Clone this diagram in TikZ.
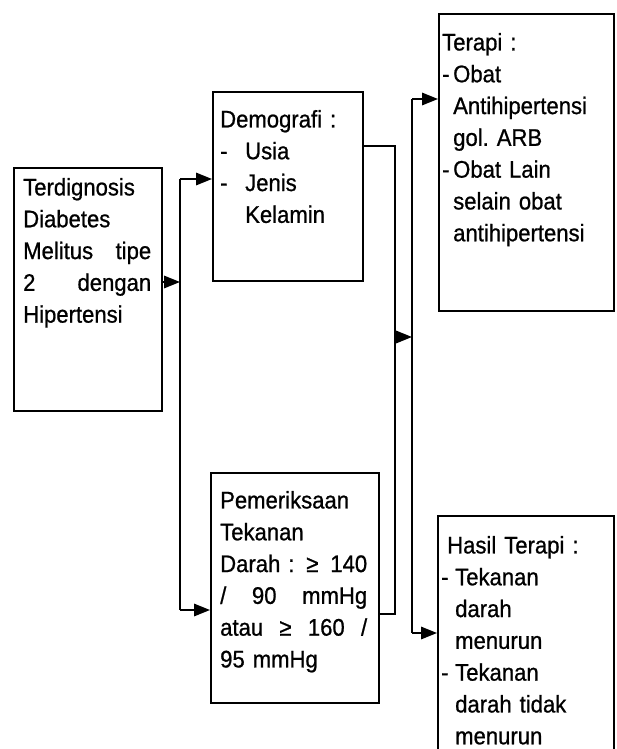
\documentclass[tikz,border=0pt]{standalone}
\usepackage{fontspec}
\setmainfont{Liberation Sans}[FakeStretch=0.92,FakeBold=0.8]
\usetikzlibrary{arrows.meta,calc}
\tikzset{
  box/.style={draw=black, line width=1.8pt, rectangle, inner sep=0pt, anchor=north west},
  txt/.style={inner sep=0pt, anchor=north west, align=left, font=\fontsize{24}{31.8}\selectfont\frenchspacing},
  conn/.style={line width=1.6pt, line join=miter},
  arr/.style={conn, -{Triangle[length=16pt,width=12.5pt]}}
}
\newcommand{\dsh}[1]{\makebox[#1][l]{-}}
\begin{document}
\begin{tikzpicture}[x=1pt,y=-1pt]
\clip (0,0) rectangle (616,749);
\useasboundingbox (0,0) rectangle (616,749);
% boxes
\node[box, minimum width=148pt, minimum height=243pt] (diag) at (13,167) {};
\node[box, minimum width=150pt, minimum height=189pt] (dem) at (212,91) {};
\node[box, minimum width=168pt, minimum height=230pt] (pem) at (210,472) {};
\node[box, minimum width=175pt, minimum height=297pt] (ter) at (438,13) {};
\node[box, minimum width=176pt, minimum height=260pt] (has) at (437,515) {};
% texts
\node[txt, text width=128pt] (tdiag) at (23,173) {\strut Terdignosis\\Diabetes\\\makebox[128pt][l]{Melitus\hfill tipe}\\\makebox[128pt][l]{2\hfill dengan}\\Hipertensi};
\node[txt, text width=140pt] (tdem) at (220,105) {\strut Demografi :\\\dsh{25pt}Usia\\\dsh{25pt}Jenis\\\hspace*{25pt}Kelamin};
\node[txt, text width=150pt] (tpem) at (220,486) {\strut Pemeriksaan\\Tekanan\\\makebox[147pt][l]{Darah :\hfill ≥\hfill 140}\\\makebox[147pt][l]{/\hfill 90\hfill mmHg}\\\makebox[147pt][l]{atau\hfill ≥\hfill 160\hfill /}\\95 mmHg};
\node[txt, text width=168pt] (tter) at (442,28) {\strut Terapi :\\\dsh{11pt}Obat\\\hspace*{11pt}Antihipertensi\\\hspace*{11pt}gol. ARB\\\dsh{11pt}Obat Lain\\\hspace*{11pt}selain obat\\\hspace*{11pt}antihipertensi};
\node[txt, text width=170pt] (thas) at (441,531) {\strut \hspace*{6pt}Hasil Terapi :\\\dsh{14pt}Tekanan\\\hspace*{14pt}darah\\\hspace*{14pt}menurun\\\dsh{14pt}Tekanan\\\hspace*{14pt}darah tidak\\\hspace*{14pt}menurun};
% connector coordinates
\coordinate (a1) at (180,179);
\coordinate (a2) at (180,610);
\coordinate (a3) at (180,282);
\coordinate (b1) at (395,146);
\coordinate (b2) at (395,614);
\coordinate (b3) at (395,337);
\coordinate (c1) at (412,99);
\coordinate (c2) at (412,633);
\coordinate (c3) at (412,337);
% connectors
\draw[arr] (a3 -| diag.east) -- (a3);
\draw[conn] (a1) -- (a2);
\draw[arr] (a1) -- (a1 -| dem.west);
\draw[arr] (a2) -- (a2 -| pem.west);
\draw[conn] (b1 -| dem.east) -- (b1) -- (b2) -- (b2 -| pem.east);
\draw[arr] (b3) -- (c3);
\draw[conn] (c1) -- (c2);
\draw[arr] (c1) -- (c1 -| ter.west);
\draw[arr] (c2) -- (c2 -| has.west);
\end{tikzpicture}
\end{document}
